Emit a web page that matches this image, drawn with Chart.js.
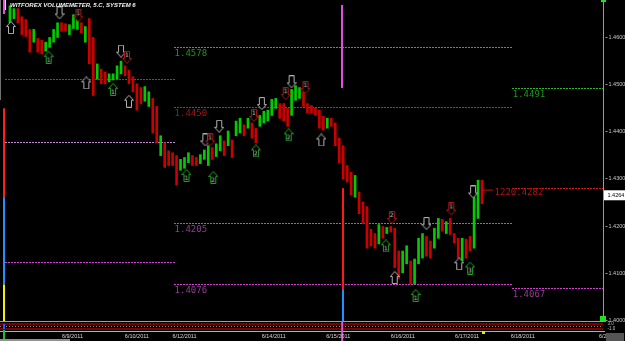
<!DOCTYPE html>
<html>
<head>
<meta charset="utf-8">
<script src="https://cdn.jsdelivr.net/npm/chart.js@4.4.0/dist/chart.umd.min.js"></script>
<style>
  html, body { margin: 0; padding: 0; background: #000; overflow: hidden; }
  #wrap { width: 625px; height: 341px; position: relative; }
</style>
</head>
<body>
<div id="wrap"><canvas id="chart"></canvas></div>
<script>
// price bars, one per period (index 0..119)
const barHigh = [
  1.4665, 1.4659, 1.4659, 1.4642, 1.4636, 1.4615, 1.4615, 1.4596, 1.4592, 1.4588,
  1.4598, 1.4615, 1.4629, 1.4629, 1.4627, 1.4625, 1.4646, 1.4636, 1.4629, 1.4621,
  1.4638, 1.4598, 1.4542, 1.4531, 1.4525, 1.4521, 1.4521, 1.4538, 1.4548, 1.4538,
  1.4529, 1.4515, 1.4500, 1.4492, 1.4494, 1.4483, 1.4469, 1.4452, 1.4390, 1.4375,
  1.4358, 1.4354, 1.4348, 1.4340, 1.4344, 1.4354, 1.4348, 1.4344, 1.4350, 1.4360,
  1.4369, 1.4365, 1.4373, 1.4390, 1.4379, 1.4400, 1.4381, 1.4421, 1.4427, 1.4413,
  1.4427, 1.4417, 1.4406, 1.4433, 1.4442, 1.4444, 1.4467, 1.4469, 1.4458, 1.4458,
  1.4448, 1.4488, 1.4496, 1.4492, 1.4483, 1.4458, 1.4454, 1.4448, 1.4444, 1.4431,
  1.4427, 1.4427, 1.4417, 1.4385, 1.4369, 1.4327, 1.4313, 1.4306, 1.4271, 1.4250,
  1.4240, 1.4192, 1.4183, 1.4202, 1.4198, 1.4196, 1.4198, 1.4194, 1.4146, 1.4146,
  1.4157, 1.4125, 1.4129, 1.4173, 1.4183, 1.4177, 1.4167, 1.4194, 1.4215, 1.4213,
  1.4208, 1.4215, 1.4183, 1.4173, 1.4173, 1.4171, 1.4177, 1.4260, 1.4296, 1.4296
];
const barLow = [
  1.4629, 1.4638, 1.4629, 1.4604, 1.4600, 1.4567, 1.4588, 1.4567, 1.4563, 1.4569,
  1.4577, 1.4588, 1.4598, 1.4611, 1.4611, 1.4604, 1.4617, 1.4615, 1.4608, 1.4588,
  1.4542, 1.4475, 1.4510, 1.4500, 1.4500, 1.4504, 1.4508, 1.4510, 1.4521, 1.4517,
  1.4500, 1.4483, 1.4444, 1.4458, 1.4463, 1.4452, 1.4396, 1.4375, 1.4348, 1.4323,
  1.4327, 1.4327, 1.4286, 1.4317, 1.4321, 1.4333, 1.4327, 1.4327, 1.4331, 1.4340,
  1.4327, 1.4340, 1.4346, 1.4358, 1.4348, 1.4369, 1.4344, 1.4390, 1.4396, 1.4390,
  1.4406, 1.4385, 1.4375, 1.4410, 1.4417, 1.4421, 1.4433, 1.4448, 1.4427, 1.4421,
  1.4410, 1.4433, 1.4465, 1.4469, 1.4452, 1.4438, 1.4438, 1.4433, 1.4406, 1.4402,
  1.4406, 1.4410, 1.4369, 1.4333, 1.4298, 1.4292, 1.4265, 1.4260, 1.4225, 1.4204,
  1.4152, 1.4157, 1.4152, 1.4161, 1.4173, 1.4183, 1.4186, 1.4111, 1.4088, 1.4100,
  1.4119, 1.4076, 1.4076, 1.4119, 1.4131, 1.4135, 1.4131, 1.4152, 1.4173, 1.4188,
  1.4183, 1.4181, 1.4163, 1.4131, 1.4125, 1.4131, 1.4146, 1.4152, 1.4215, 1.4246
];
// u = up bar (green), d = down bar (red)
const barDirection =
  'uudddduddu' + 'uuudduuudu' + 'ddudduuuud' + 'dddduuddud' + 'ddduuudduu' +
  'uduududuud' + 'udduuuuudd' + 'duuudddddd' + 'uddddddudd' + 'dddududddu' +
  'uduuudduud' + 'udddudduud';

// support / resistance levels in three sessions
const sessionBreaks = [-1.25, 41.25, 126.5, 149.5];
const leftLevels = [1.4510, 1.4377, 1.4123];
const midLevels = [1.4578, 1.4450, 1.4205, 1.4076];
const rightLevels = [1.4491, 1.4279, 1.4067];

// signal arrows
const markerIndex = [0.25, 19.25, 30, 78.5, 97, 113.25,
  12.5, 28, 49.25, 52.75, 63.5, 71, 105, 116.75,
  9.75, 26, 44.5, 51.25, 62, 70.25, 94.75, 102.25, 116,
  17.25, 29.5, 50.5, 61.5, 69.5, 74.5, 96.25, 111.25];
const markerPrice = [1.4619, 1.4502, 1.4463, 1.4381, 1.4090, 1.4119,
  1.4650, 1.4569, 1.4381, 1.4410, 1.4458, 1.4504, 1.4204, 1.4271,
  1.4556, 1.4488, 1.4306, 1.4302, 1.4358, 1.4392, 1.4157, 1.4052, 1.4110,
  1.4644, 1.4556, 1.4381, 1.4433, 1.4479, 1.4492, 1.4217, 1.4235];
const markerKind = [
  'grayUp', 'grayUp', 'grayUp', 'grayUp', 'grayUp', 'grayUp',
  'grayDown', 'grayDown', 'grayDown', 'grayDown', 'grayDown', 'grayDown', 'grayDown', 'grayDown',
  'greenUp', 'greenUp', 'greenUp', 'greenUp', 'greenUp', 'greenUp', 'greenUp', 'greenUp', 'greenUp',
  'redDown', 'redDown', 'redDown', 'redDown', 'redDown', 'redDown', 'redDown', 'redDown'];
const markerNumber = ['', '', '', '', '', '',
  '', '', '', '', '', '', '', '',
  '1', '1', '1', '2', '2', '2', '1', '1', '3',
  '1', '1', '1', '1', '1', '1', '2', '1'];

const volumeIndex = 120.4;
const volumePrice = 1.4275;
const volumeLabel = '1220.4282';

const priceTicks = [1.40, 1.41, 1.42, 1.43, 1.44, 1.45, 1.46];
const lastPrice = 1.4264;
const sessionLine = 83.75;

const dateLabels = ['6/9/2011', '6/10/2011', '6/12/2011', '6/14/2011', '6/15/2011',
  '6/16/2011', '6/17/2011', '6/18/2011', '6/20/20'];
const datePositions = [15.75, 32, 44, 66.5, 82.75, 99, 115.25, 129.25, 150.8];

const title = 'WITFOREX VOLUMEMETER, 5.C, SYSTEM 6';

// ---------------------------------------------------------------------------
// arrow glyphs
// ---------------------------------------------------------------------------
function arrowImage(stroke, up, num) {
  const c = document.createElement('canvas');
  c.width = 10;
  c.height = 13;
  const g = c.getContext('2d');
  g.beginPath();
  if (up) {
    g.moveTo(5, 0.5); g.lineTo(9.5, 5.5); g.lineTo(7.5, 5.5); g.lineTo(7.5, 12.5);
    g.lineTo(2.5, 12.5); g.lineTo(2.5, 5.5); g.lineTo(0.5, 5.5);
  } else {
    g.moveTo(5, 12.5); g.lineTo(9.5, 7.5); g.lineTo(7.5, 7.5); g.lineTo(7.5, 0.5);
    g.lineTo(2.5, 0.5); g.lineTo(2.5, 7.5); g.lineTo(0.5, 7.5);
  }
  g.closePath();
  g.fillStyle = '#000';
  g.fill();
  g.strokeStyle = stroke;
  g.lineWidth = 1;
  g.stroke();
  if (num) {
    g.fillStyle = '#c8c8c8';
    g.font = '6px "DejaVu Sans"';
    g.textAlign = 'center';
    g.textBaseline = 'middle';
    g.fillText(num, 5, up ? 9 : 4);
  }
  return c;
}

function leftArrow() {
  const c = document.createElement('canvas');
  c.width = 12;
  c.height = 7;
  const g = c.getContext('2d');
  g.strokeStyle = '#c01010';
  g.beginPath();
  g.moveTo(0.5, 3.5); g.lineTo(11.5, 3.5);
  g.moveTo(0.5, 3.5); g.lineTo(3.5, 0.5);
  g.moveTo(0.5, 3.5); g.lineTo(3.5, 6.5);
  g.stroke();
  return c;
}

const kindStyle = {
  grayUp: ['#b0b0b0', true],
  grayDown: ['#b0b0b0', false],
  greenUp: ['#1ea01e', true],
  redDown: ['#b01414', false],
};
const markerImages = markerKind.map((k, i) => arrowImage(kindStyle[k][0], kindStyle[k][1], markerNumber[i]));

// level line colours per session
const leftColors = ['#e01c1c', '#c088d0', '#d040d0'];
const midColors = ['#2ab82a', '#e01c1c', '#d040d0', '#d040d0'];
const rightColors = ['#2ab82a', '#d01818', '#d040d0'];

// dotted level line snapped to the pixel grid
function dottedLevel(ctx, x, y, value, from, to, color) {
  const py = Math.round(y.getPixelForValue(value));
  const x0 = Math.round(x.getPixelForValue(from));
  const x1 = Math.round(x.getPixelForValue(to));
  ctx.fillStyle = color;
  for (let px = x0; px < x1; px += 3) ctx.fillRect(px, py, 2, 1);
}

// ---------------------------------------------------------------------------
// decorations drawn with the scales
// ---------------------------------------------------------------------------
const decor = {
  id: 'decor',
  beforeDraw(chart) {
    const ctx = chart.ctx;
    ctx.save();
    ctx.fillStyle = '#000';
    ctx.fillRect(0, 0, chart.width, chart.height);
    ctx.restore();
  },
  beforeDatasetsDraw(chart) {
    const { ctx, scales: { x, y }, chartArea } = chart;
    ctx.save();
    leftLevels.forEach((v, i) => dottedLevel(ctx, x, y, v, sessionBreaks[0], sessionBreaks[1], leftColors[i]));
    midLevels.forEach((v, i) => dottedLevel(ctx, x, y, v, sessionBreaks[1], sessionBreaks[2], midColors[i]));
    rightLevels.forEach((v, i) => dottedLevel(ctx, x, y, v, sessionBreaks[2], sessionBreaks[3], rightColors[i]));

    // session marker line
    const sx = Math.round(x.getPixelForValue(sessionLine));
    ctx.fillStyle = '#e050e0';
    ctx.fillRect(sx - 1, chartArea.top, 2, y.getPixelForValue(1.4491) - chartArea.top);
    ctx.fillStyle = '#ff1a1a';
    ctx.fillRect(sx, y.getPixelForValue(1.4279), 2, y.getPixelForValue(1.4065) - y.getPixelForValue(1.4279));
    ctx.fillStyle = '#1e90ff';
    ctx.fillRect(sx, y.getPixelForValue(1.4065), 2, chartArea.bottom - y.getPixelForValue(1.4065));
    // left volume stripe
    ctx.fillStyle = '#ff2020';
    ctx.fillRect(3, y.getPixelForValue(1.4448), 2, y.getPixelForValue(1.4260) - y.getPixelForValue(1.4448));
    ctx.fillStyle = '#1e90ff';
    ctx.fillRect(3, y.getPixelForValue(1.4260), 2, y.getPixelForValue(1.4075) - y.getPixelForValue(1.4260));
    ctx.fillStyle = '#f0f000';
    ctx.fillRect(3, y.getPixelForValue(1.4075), 2, chartArea.bottom - y.getPixelForValue(1.4075));
    ctx.fillStyle = '#e050e0';
    ctx.fillRect(3, 0, 2, 14);
    ctx.fillStyle = '#ffffff';
    ctx.fillRect(5, 0, 1, 10);
    ctx.fillStyle = '#707070';
    ctx.fillRect(0, 0, 1, 100);
    ctx.restore();
  },
  afterDraw(chart) {
    const { ctx, scales: { x, y }, chartArea } = chart;
    ctx.save();

    // title
    ctx.fillStyle = '#f0f0f0';
    ctx.font = 'italic bold 6px "Liberation Sans"';
    ctx.textBaseline = 'middle';
    ctx.textAlign = 'left';
    ctx.fillText(title, 10, 5.5);

    // level labels
    ctx.font = '9px "DejaVu Sans Mono"';
    ctx.textBaseline = 'top';
    const midText = ['#1e961e', '#a01616', '#903e90', '#903e90'];
    midLevels.forEach((v, i) => {
      ctx.fillStyle = midText[i];
      ctx.fillText(v.toFixed(4), x.getPixelForValue(sessionBreaks[1]) + 1, y.getPixelForValue(v) + 2);
    });
    [0, 2].forEach((i) => {
      const v = rightLevels[i];
      ctx.fillStyle = i === 0 ? '#1e961e' : '#903e90';
      ctx.fillText(v.toFixed(4), x.getPixelForValue(sessionBreaks[2]) + 1, y.getPixelForValue(v) + 2);
    });

    // volume reading next to last bar
    ctx.fillStyle = '#b01414';
    ctx.textBaseline = 'middle';
    ctx.fillText(volumeLabel, x.getPixelForValue(volumeIndex) + 7, y.getPixelForValue(volumePrice) + 3);

    // price axis
    const ax = chartArea.right + 0.5;
    ctx.strokeStyle = '#9a9a9a';
    ctx.lineWidth = 1;
    ctx.beginPath();
    ctx.moveTo(ax, 0);
    ctx.lineTo(ax, chartArea.bottom);
    ctx.stroke();
    ctx.font = '5.5px "Liberation Sans"';
    ctx.fillStyle = '#c8c8c8';
    ctx.textAlign = 'left';
    priceTicks.forEach((t) => {
      const py = Math.round(y.getPixelForValue(t)) + 0.5;
      ctx.beginPath();
      ctx.moveTo(ax + 2, py);
      ctx.lineTo(ax + 4, py);
      ctx.stroke();
      ctx.fillText(t.toFixed(4), ax + 5, py);
    });
    const lp = y.getPixelForValue(lastPrice);
    ctx.fillStyle = '#ffffff';
    ctx.fillRect(chartArea.right + 1, lp - 5, 22, 10);
    ctx.fillStyle = '#000';
    ctx.fillText(lastPrice.toFixed(4), ax + 4, lp);
    ctx.fillStyle = '#20e020';
    ctx.fillRect(chartArea.right - 2, 0, 5, 2);
    ctx.fillRect(chartArea.right - 3, chartArea.bottom - 5, 6, 6);

    // indicator strip
    const b = chartArea.bottom;
    ctx.fillStyle = '#a0a0a0';
    ctx.fillRect(0, b, chartArea.right, 1);
    ctx.fillStyle = '#7a0000';
    ctx.fillRect(0, b + 2, chartArea.right, 2);
    ctx.fillRect(0, b + 7, chartArea.right, 2);
    ctx.strokeStyle = '#8a8a8a';
    ctx.setLineDash([1, 2]);
    ctx.beginPath();
    ctx.moveTo(0, b + 5.5);
    ctx.lineTo(chartArea.right, b + 5.5);
    ctx.stroke();
    ctx.setLineDash([]);
    ctx.fillStyle = '#b0b0b0';
    ctx.fillRect(0, b + 10, chartArea.right + 2, 1);
    ctx.fillStyle = '#e8e800';
    ctx.fillRect(482, b + 10, 3, 3);
    ctx.fillStyle = '#e050e0';
    ctx.fillRect(x.getPixelForValue(sessionLine) - 1, b, 2, 20);
    ctx.fillStyle = '#20c020';
    ctx.fillRect(3, b + 9, 2, 11);
    ctx.fillStyle = '#3050ff';
    ctx.fillRect(3, b + 3, 2, 5);
    ctx.fillStyle = '#c0c0c0';
    ctx.font = '4.5px "Liberation Sans"';
    ctx.fillText('3.0', ax + 4, b + 3);
    ctx.fillText('-1.0', ax + 4, b + 8);

    // dates
    ctx.font = '5.5px "Liberation Sans"';
    ctx.fillStyle = '#d8d8d8';
    ctx.textAlign = 'center';
    ctx.textBaseline = 'middle';
    dateLabels.forEach((d, i) => {
      ctx.fillText(d, x.getPixelForValue(datePositions[i]), b + 15);
    });
    ctx.fillStyle = '#909090';
    ctx.fillRect(0, chart.height - 2, 70, 2);
    ctx.fillStyle = '#555';
    ctx.fillRect(606, b + 12, 18, 8);
    ctx.restore();
  },
};

new Chart(document.getElementById('chart'), {
  type: 'bar',
  data: {
    datasets: [
      {
        type: 'bar',
        data: barHigh.map((h, i) => ({ x: i, y: [barLow[i], h] })),
        backgroundColor: (c) => (barDirection[c.dataIndex] === 'u' ? '#00cc00' : '#cc0000'),
        barThickness: 2,
        grouped: false,
        order: 3,
      },
      {
        type: 'line',
        showLine: false,
        data: markerIndex.map((m, i) => ({ x: m, y: markerPrice[i] })),
        pointStyle: markerImages,
        order: 1,
      },
      {
        type: 'line',
        showLine: false,
        data: [{ x: volumeIndex, y: volumePrice }],
        pointStyle: leftArrow(),
        order: 1,
      },
    ],
  },
  options: {
    responsive: true,
    maintainAspectRatio: false,
    animation: false,
    layout: { padding: { left: 0, right: 22, top: 0, bottom: 20 } },
    plugins: { legend: { display: false }, tooltip: { enabled: false } },
    scales: {
      x: { type: 'linear', offset: false, min: sessionBreaks[0], max: sessionBreaks[3], display: false },
      y: { type: 'linear', min: 1.39979, max: 1.46667, display: false },
    },
  },
  plugins: [decor],
});
</script>
</body>
</html>
